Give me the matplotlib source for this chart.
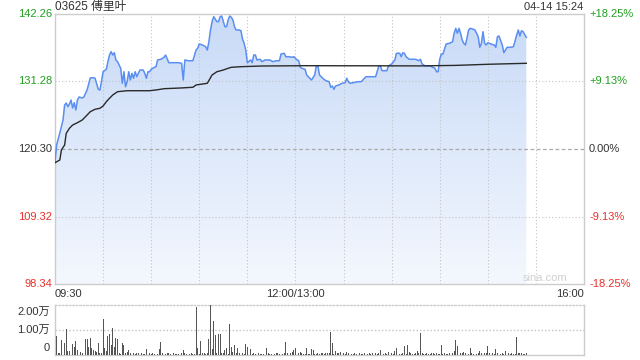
import matplotlib
matplotlib.use("Agg")
import matplotlib.pyplot as plt
import numpy as np
from matplotlib.patches import Polygon

plt.rcParams['font.family'] = ['Liberation Sans', 'Noto Sans CJK SC', 'DejaVu Sans']

# ---------------- data ----------------
title = "03625 傅里叶"
stamp = "04-14 15:24"
prev_close = 120.30
price_ticks = [98.34, 109.32, 120.30, 131.28, 142.26]
pct_ticks = ["-18.25%", "-9.13%", "0.00%", "+9.13%", "+18.25%"]
time_labels = ["09:30", "12:00/13:00", "16:00"]
time_label_pos = [0, 150, 330]
session_minutes = 330

# minutes since 09:30 (lunch break removed)
price_minutes = [0, 1, 3, 5, 6, 7, 8, 9, 10, 11, 12, 13, 14, 15, 17, 18, 20, 22, 24, 25,
                 27, 28, 29, 30, 32, 33, 34, 35, 36, 37, 38, 39, 41, 42, 43, 44, 45, 46, 47, 48,
                 49, 50, 51, 53, 55, 56, 57, 58, 59, 60, 62, 63, 64, 66, 68, 69, 71, 74, 77, 79,
                 80, 81, 83, 86, 88, 89, 90, 92, 94, 95, 96, 97, 98, 99, 101, 102, 103, 104, 106, 107,
                 108, 109, 110, 111, 112, 113, 115, 116, 117, 118, 119, 120, 122, 123, 124, 125, 126, 128, 129, 131,
                 134, 136, 138, 140, 141, 143, 144, 146, 148, 149, 151, 152, 153, 154, 156, 157, 159, 160, 162, 163,
                 164, 165, 167, 169, 171, 172, 173, 174, 175, 177, 179, 181, 182, 183, 184, 186, 189, 191, 193, 194,
                 197, 200, 202, 203, 204, 207, 208, 210, 212, 213, 215, 216, 217, 218, 219, 221, 225, 227, 228, 229,
                 231, 234, 235, 237, 238, 239, 240, 241, 242, 244, 246, 248, 249, 250, 251, 252, 253, 254, 255, 256,
                 257, 258, 259, 261, 262, 264, 265, 266, 267, 268, 269, 270, 272, 274, 275, 276, 277, 279, 280, 282,
                 284, 286, 288, 289, 290, 291, 292, 294]
price_values = [118.07, 120.95, 122.90, 125.02, 127.46, 127.78, 127.18, 127.62, 128.27, 126.97,
                127.83, 126.64, 128.27, 128.76, 128.60, 128.76, 129.90, 131.85, 131.90, 131.80,
                130.01, 129.90, 131.25, 132.87, 133.26, 134.50, 135.59, 136.13, 135.59, 135.96,
                134.78, 134.50, 133.43, 130.99, 132.87, 130.43, 131.25, 132.87, 131.52, 132.61,
                131.80, 132.87, 132.06, 133.15, 133.15, 132.61, 131.80, 132.87, 132.87, 133.26,
                133.59, 133.69, 134.78, 134.89, 135.22, 135.59, 134.34, 134.34, 134.34, 134.24,
                131.52, 134.78, 134.66, 134.66, 136.40, 136.68, 137.38, 137.22, 136.94, 136.40,
                137.75, 139.66, 141.01, 141.82, 141.01, 141.01, 141.82, 141.93, 140.19, 140.19,
                141.28, 141.93, 141.72, 141.28, 140.19, 139.66, 139.66, 139.54, 138.14, 137.49,
                136.40, 134.34, 134.78, 134.34, 135.59, 135.59, 134.78, 134.89, 134.50, 134.78,
                134.78, 134.50, 134.66, 134.66, 135.75, 135.87, 135.31, 135.31, 135.22, 135.31,
                134.78, 134.66, 133.59, 133.43, 133.26, 132.34, 131.80, 131.52, 132.34, 133.80,
                133.80, 132.34, 131.80, 131.41, 131.25, 130.34, 130.55, 130.01, 130.55, 130.71,
                130.99, 131.08, 131.80, 131.25, 130.99, 131.08, 131.25, 131.25, 131.80, 132.06,
                132.06, 132.06, 133.80, 133.80, 133.04, 133.04, 133.80, 134.13, 134.78, 135.87,
                135.87, 135.31, 135.96, 135.87, 135.31, 134.89, 134.89, 134.66, 134.89, 134.13,
                133.80, 133.80, 133.69, 133.43, 132.87, 132.87, 134.89, 135.75, 135.75, 137.38,
                137.49, 137.75, 139.12, 139.93, 139.12, 139.93, 139.12, 138.03, 137.49, 137.22,
                138.31, 139.66, 139.93, 139.77, 139.66, 138.57, 136.84, 137.49, 139.38, 137.49,
                137.22, 137.59, 137.38, 137.22, 136.84, 138.57, 138.68, 137.22, 135.96, 136.84,
                136.84, 136.94, 138.84, 139.66, 138.68, 139.54, 139.38, 138.47]

avg_minutes = [0, 3, 4, 6, 7, 9, 11, 14, 17, 19, 22, 25, 28, 30, 32, 34, 36, 39, 45, 59,
               63, 68, 78, 86, 88, 95, 98, 101, 105, 108, 110, 116, 129, 156, 228, 250, 270, 294]
avg_values = [118.07, 118.51, 120.14, 120.95, 122.85, 123.67, 124.20, 124.58, 125.02, 125.55,
              126.37, 126.76, 126.92, 127.29, 127.99, 128.55, 129.08, 129.62, 129.78, 129.78,
              129.90, 130.11, 130.22, 130.34, 130.71, 130.99, 132.34, 132.87, 133.15, 133.43,
              133.59, 133.69, 133.80, 133.85, 133.82, 133.90, 134.08, 134.24]

# volume per minute, unit: 万 shares (minute 0 .. 294)
volume = [1.13, 0.76, 0.09, 0.07, 0.60, 0.07, 0.49, 1.03, 0.16, 0.16,
          0.67, 0.44, 0.31, 0.56, 0.20, 0.67, 0.13, 0.07, 0.02, 0.63,
          0.63, 0.33, 0.67, 0.27, 0.20, 0.16, 0.13, 0.47, 0.09, 0.09,
          1.43, 0.27, 0.16, 0.76, 0.84, 0.40, 1.07, 0.33, 0.67, 0.63,
          0.07, 0.03, 0.47, 0.40, 0.07, 0.13, 0.20, 0.07, 0.13, 0.07,
          0.04, 0.07, 0.09, 0.04, 0.07, 0.05, 0.03, 0.23, 0.09, 0.07,
          0.04, 0.09, 0.04, 0.07, 0.05, 0.23, 0.53, 0.07, 0.09, 0.05,
          0.07, 0.07, 0.03, 0.04, 0.07, 0.05, 0.03, 0.06, 0.31, 0.09,
          0.20, 0.09, 0.04, 0.03, 0.04, 0.09, 0.04, 0.03, 1.93, 0.27,
          0.05, 0.57, 0.09, 0.07, 0.04, 0.07, 0.63, 2.00, 0.23, 1.37,
          0.80, 0.09, 0.84, 0.84, 0.07, 0.09, 0.20, 0.27, 0.05, 1.24,
          0.33, 0.13, 0.40, 0.09, 0.27, 0.07, 0.13, 0.07, 0.04, 0.44,
          0.33, 0.44, 0.23, 0.04, 0.07, 0.05, 0.09, 0.07, 0.04, 0.03,
          0.05, 0.13, 0.27, 0.07, 0.03, 0.05, 0.07, 0.04, 0.09, 0.07,
          0.05, 0.20, 0.04, 0.07, 0.53, 0.07, 0.05, 0.07, 0.13, 0.20,
          0.27, 0.23, 0.07, 0.13, 0.09, 0.04, 0.05, 0.27, 0.04, 0.03,
          0.23, 0.20, 0.04, 0.05, 0.07, 0.04, 0.07, 0.09, 0.05, 0.09,
          0.09, 0.07, 0.93, 0.49, 0.05, 0.16, 0.07, 0.09, 0.13, 0.05,
          0.07, 0.04, 0.13, 0.09, 0.07, 0.05, 0.04, 0.07, 0.03, 0.05,
          0.07, 0.04, 0.03, 0.07, 0.17, 0.05, 0.07, 0.04, 0.07, 0.05,
          0.09, 0.04, 0.07, 0.20, 0.07, 0.04, 0.07, 0.04, 0.13, 0.05,
          0.07, 0.04, 0.17, 0.29, 0.07, 0.04, 0.05, 0.09, 0.36, 0.05,
          0.40, 0.13, 0.07, 0.04, 0.05, 0.07, 0.17, 0.07, 0.87, 0.07,
          0.04, 0.05, 0.07, 0.04, 0.05, 0.09, 0.07, 0.04, 0.07, 0.04,
          0.05, 0.40, 0.04, 0.07, 0.04, 0.05, 0.07, 0.04, 0.07, 0.17,
          0.60, 0.36, 0.13, 0.07, 0.09, 0.13, 0.09, 0.07, 0.04, 0.27,
          0.07, 0.05, 0.07, 0.04, 0.07, 0.17, 0.07, 0.09, 0.09, 0.09,
          0.36, 0.07, 0.04, 0.07, 0.05, 0.23, 0.07, 0.04, 0.05, 0.07,
          0.05, 0.17, 0.04, 0.07, 0.05, 0.07, 0.04, 0.05, 0.73, 0.09,
          0.07, 0.07, 0.04, 0.05, 0.07]
vol_ticks = [0, 1.0, 2.0]
vol_labels = ["0", "1.00万", "2.00万"]

# ---------------- styling ----------------
W, H = 640, 360
GREEN = '#1ea01e'
RED = '#e8302a'
DARK = '#333333'
BORDER = '#cccccc'
GRID = '#c4c4c4'
LINE = '#5a8ef0'

fig = plt.figure(figsize=(W / 100, H / 100), dpi=100)
fig.patch.set_facecolor('white')

def fx(px):
    return px / W

def fy(py):
    return 1 - py / H

L, R = 55, 584
T, B = 14, 284
ax = fig.add_axes([fx(L), fy(B), fx(R) - fx(L), (B - T) / H])
ax.set_xlim(0, session_minutes)
ax.set_ylim(price_ticks[0], price_ticks[-1])
ax.set_xticks([])
ax.set_yticks([])
for s in ax.spines.values():
    s.set_color(BORDER)
    s.set_linewidth(1)

# gradient fill under price
pm = np.array(price_minutes, dtype=float)
pv = np.array(price_values, dtype=float)
ybot = price_ticks[0]
verts = np.vstack([np.column_stack([pm, pv]), [[pm[-1], ybot], [pm[0], ybot]]])
poly = Polygon(verts, closed=True, facecolor='none', edgecolor='none')
ax.add_patch(poly)
top_c = np.array([0xc8, 0xda, 0xf7]) / 255
bot_c = np.array([0xf4, 0xf8, 0xfe]) / 255
t = np.linspace(0, 1, 256)[:, None]
grad = (top_c[None, :] * (1 - t) + bot_c[None, :] * t)[:, None, :]
im = ax.imshow(grad, extent=[0, session_minutes, price_ticks[0], price_ticks[-1]],
               aspect='auto', origin='upper', zorder=1, interpolation='bilinear')
im.set_clip_path(poly)
ax.set_xlim(0, session_minutes)
ax.set_ylim(price_ticks[0], price_ticks[-1])

# grid (above the fill)
for m in range(30, session_minutes, 30):
    ax.axvline(m, color=GRID, lw=0.8, ls=(0, (1, 2)), zorder=3)
for p in (price_ticks[1], price_ticks[3]):
    ax.axhline(p, color=GRID, lw=0.8, ls=(0, (1, 2)), zorder=3)
ax.axhline(prev_close, color='#aaaaaa', lw=0.9, ls=(0, (3, 2)), zorder=3)

ax.plot(price_minutes, price_values, color=LINE, lw=1.1, zorder=4)
ax.plot(avg_minutes, avg_values, color='#2a2a2a', lw=1.0, zorder=5)

# y labels
lab_colors = [RED, RED, DARK, GREEN, GREEN]
for p, pc, c in zip(price_ticks, pct_ticks, lab_colors):
    yy = 1 - (B - (p - price_ticks[0]) / (price_ticks[-1] - price_ticks[0]) * (B - T)) / H
    fig.text(fx(52), yy, f"{p:.2f}", ha='right', va='center', fontsize=8, color=c)
    fig.text(fx(589), yy, pc, ha='left', va='center', fontsize=8, color=c)

fig.text(fx(55), fy(7), title, ha='left', va='center', fontsize=8.5, color=DARK)
fig.text(fx(583), fy(7), stamp, ha='right', va='center', fontsize=8, color=DARK)
fig.text(fx(545), fy(278), "sina.com", ha='center', va='center', fontsize=8, color='#d0d0d0')

# time labels
aligns = ['left', 'center', 'right']
for lab, pos, a in zip(time_labels, time_label_pos, aligns):
    xx = fx(L) + pos / session_minutes * (fx(R) - fx(L))
    fig.text(xx, fy(294), lab, ha=a, va='center', fontsize=8, color=DARK)

# volume axes
VT, VB = 305, 355
vax = fig.add_axes([fx(L), fy(VB), fx(R) - fx(L), (VB - VT) / H])
vax.set_xlim(0, session_minutes)
vax.set_ylim(0, vol_ticks[-1])
vax.set_xticks([])
vax.set_yticks([])
for k, s in vax.spines.items():
    s.set_color(BORDER)
    s.set_linewidth(1)
vax.spines['top'].set_linestyle((0, (1, 1.5)))
vax.axhline(vol_ticks[1], color=GRID, lw=1.0, ls=(0, (1, 1.5)), zorder=1)
vax.bar(np.arange(len(volume)), volume, width=0.55, color='#555555', zorder=3, align='center')

vol_label_y = [348, 330, 312]
for lab, yy in zip(vol_labels, vol_label_y):
    fig.text(fx(50), fy(yy), lab, ha='right', va='center', fontsize=8, color=DARK)

fig.savefig("out.png", dpi=100, facecolor='white')
